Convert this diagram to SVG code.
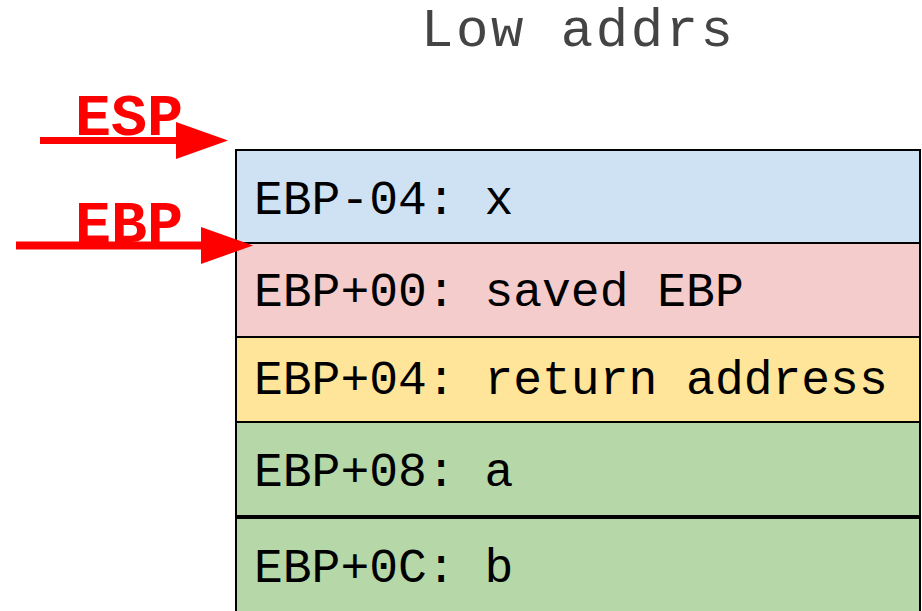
<svg xmlns="http://www.w3.org/2000/svg" width="922" height="611" viewBox="0 0 922 611">
<style>
.cell{stroke:#000;stroke-width:2}
.t{font-family:"Liberation Mono","Courier New",monospace;font-size:48px;fill:#000}
.lbl{font-family:"Liberation Mono","Courier New",monospace;font-size:60px;font-weight:bold;fill:#ff0000}
.arr{stroke:#ff0000;stroke-width:7;fill:none}
</style>
<rect width="922" height="611" fill="#fff"/>
<text x="421" y="46" class="t" style="font-size:54px;fill:#444" textLength="312" lengthAdjust="spacing">Low addrs</text>
<g id="row1"><rect class="cell" x="236" y="150" width="684" height="93" fill="#cfe2f3"/><text class="t" x="254" y="214">EBP-04: x</text></g>
<g id="row2"><rect class="cell" x="236" y="243" width="684" height="94" fill="#f4cccc"/><text class="t" x="254" y="306">EBP+00: saved EBP</text></g>
<g id="row3"><rect class="cell" x="236" y="337" width="684" height="85" fill="#ffe599"/><text class="t" x="254" y="394">EBP+04: return address</text></g>
<g id="row4"><rect class="cell" x="236" y="422" width="684" height="94" fill="#b6d7a8"/><text class="t" x="254" y="486">EBP+08: a</text></g>
<g id="row5"><rect class="cell" x="236" y="518" width="684" height="110" fill="#b6d7a8"/><text class="t" x="254" y="582">EBP+0C: b</text></g>
<g id="esp"><text class="lbl" x="75" y="135">ESP</text></g>
<g id="ebp"><text class="lbl" x="75" y="242">EBP</text></g>
<g id="connectors">
<line class="arr" x1="40" y1="140.5" x2="180" y2="140.5"/>
<polygon points="176,122 228,140.5 176,159" fill="#ff0000"/>
<line class="arr" x1="16" y1="245.5" x2="205" y2="245.5" style="stroke-width:8"/>
<polygon points="201,227 253,245.5 201,264" fill="#ff0000"/>
</g>
</svg>
